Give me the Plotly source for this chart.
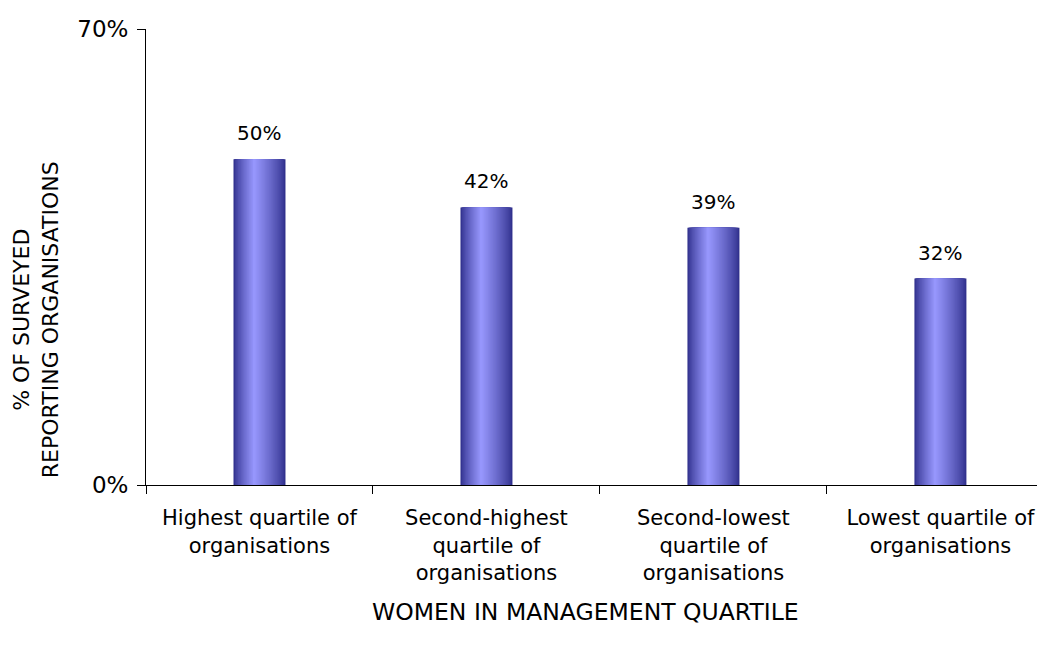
import plotly.graph_objects as go

categories = ["Highest quartile of<br>organisations",
              "Second-highest<br>quartile of<br>organisations",
              "Second-lowest<br>quartile of<br>organisations",
              "Lowest quartile of<br>organisations"]
values = [50.0, 42.6, 39.5, 31.7]
value_labels = ["50%", "42%", "39%", "32%"]
y_tick_vals = [0, 70]
y_tick_text = ["0%", "70%"]

FONT = "DejaVu Sans, Verdana, sans-serif"

def lerp(c1, c2, t):
    return "rgb(%d,%d,%d)" % tuple(round(a + (b - a) * t) for a, b in zip(c1, c2))

dark = (48, 48, 140)
light = (153, 153, 255)
bar_w = 0.229
L, R = -bar_w / 2, bar_w / 2
P = L + 0.4 * bar_w
N = 28

fig = go.Figure()
for k in range(N):
    t = k / N
    left = L + t * (P - L)
    right = R - t * (R - P)
    col = lerp(dark, light, (t ** 0.8))
    fig.add_trace(go.Bar(
        x=categories, y=values,
        width=right - left, offset=left,
        marker=dict(color=col, line=dict(width=0)),
        hoverinfo="skip", showlegend=False,
    ))

for c, v, lab in zip(categories, values, value_labels):
    fig.add_annotation(x=c, y=v, text=lab, showarrow=False,
                       yanchor="bottom", yshift=12,
                       font=dict(family=FONT, size=20, color="#000000"))

fig.add_annotation(xref="paper", yref="paper", x=-0.121, y=0.362,
                   text="% OF SURVEYED<br>REPORTING ORGANISATIONS",
                   textangle=-90, showarrow=False,
                   xanchor="center", yanchor="middle",
                   font=dict(family=FONT, size=22, color="#000000"))
fig.add_annotation(xref="paper", yref="paper", x=0.485, y=-0.2785,
                   text="WOMEN IN MANAGEMENT QUARTILE", showarrow=False,
                   xanchor="center", yanchor="middle",
                   font=dict(family=FONT, size=23.5, color="#000000"))

fig.update_layout(
    width=1045, height=650,
    margin=dict(l=138, r=0, t=21, b=173, autoexpand=False),
    plot_bgcolor="white", paper_bgcolor="white",
    barmode="overlay",
    font=dict(family=FONT, size=21, color="#000000"),
)
fig.update_xaxes(
    type="category", range=[-0.5, 3.496], automargin=False,
    tickson="boundaries", ticks="outside", ticklen=8, tickcolor="black",
    showline=True, linecolor="black", linewidth=1,
    showgrid=False, zeroline=False, tickangle=0, ticklabelstandoff=14,
    tickfont=dict(family=FONT, size=21),
)
fig.update_yaxes(
    range=[0, 70], tickvals=y_tick_vals, ticktext=y_tick_text, automargin=False,
    ticks="outside", ticklen=8, tickcolor="black",
    showline=True, linecolor="black", linewidth=1,
    showgrid=False, zeroline=False, ticklabelstandoff=4,
    tickfont=dict(family=FONT, size=23),
)

fig.write_html("out.html")
